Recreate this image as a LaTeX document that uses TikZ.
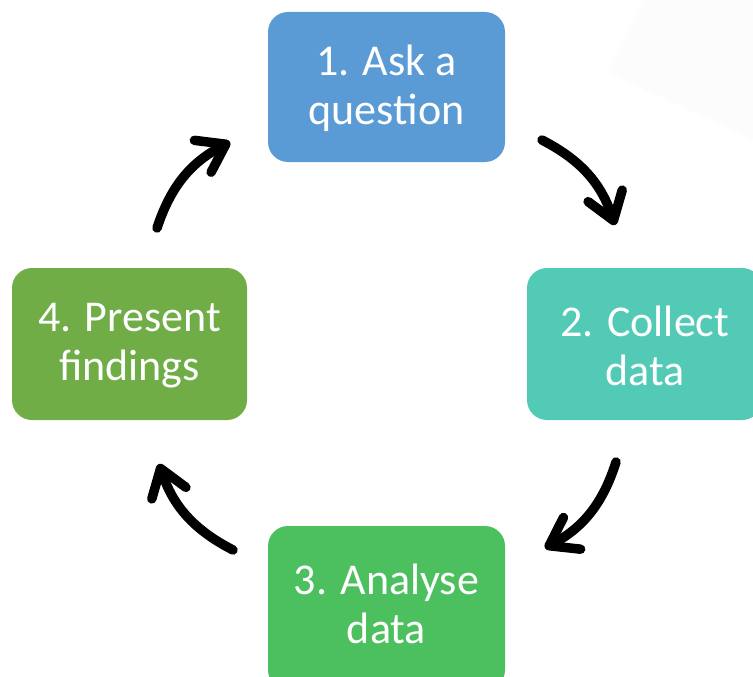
\documentclass[tikz,border=0pt]{standalone}
\usepackage{fontspec}
\setmainfont{Carlito}
\usetikzlibrary{arrows.meta}
\definecolor{cblue}{HTML}{5B9BD5}
\definecolor{cteal}{HTML}{53CAB6}
\definecolor{cgreen}{HTML}{4CBF5F}
\definecolor{colive}{HTML}{70AD47}
\definecolor{faint}{HTML}{FCFCFC}
\tikzset{
  stepbox/.style={rounded corners=20pt, inner sep=0pt, text=white,
    font=\fontsize{44pt}{49pt}\selectfont, align=center},
  cyc/.style={line width=9.5pt, line cap=round,
    -{Straight Barb[length=26pt,width=36pt,round]}, bend left=22}
}
\begin{document}
\begin{tikzpicture}[x=1pt,y=-1pt]
\useasboundingbox (0,0) rectangle (753,677);
\clip (0,0) rectangle (753,677);
\fill[faint] (643,0) -- (607,72) -- (753,140) -- (753,0) -- cycle;
% boxes
\fill[cblue,rounded corners=20pt] (268,12) rectangle (505,162);
\node[stepbox] (b1) at (386.5,88) {1. Ask a\\question};
\fill[cteal,rounded corners=20pt] (527,268) rectangle (762,420);
\node[stepbox] (b2) at (645,346) {2. Collect\\data};
\fill[cgreen,rounded corners=20pt] (268,526) rectangle (505,690);
\node[stepbox] (b3) at (386.5,604) {3. Analyse\\data};
\fill[colive,rounded corners=20pt] (12,268) rectangle (247,420);
\node[stepbox] (b4) at (129.5,346) {4. Present\\findings};
% arrow end points
\coordinate (a1s) at (542,140);
\coordinate (a1e) at (615,225);
\coordinate (a2s) at (616,462);
\coordinate (a2e) at (545,548);
\coordinate (a3s) at (233,550);
\coordinate (a3e) at (159,464);
\coordinate (a4s) at (157,228);
\coordinate (a4e) at (230,142);
\draw[cyc] (a1s) to (a1e);
\draw[cyc] (a2s) to (a2e);
\draw[cyc] (a3s) to (a3e);
\draw[cyc] (a4s) to (a4e);
\end{tikzpicture}
\end{document}
